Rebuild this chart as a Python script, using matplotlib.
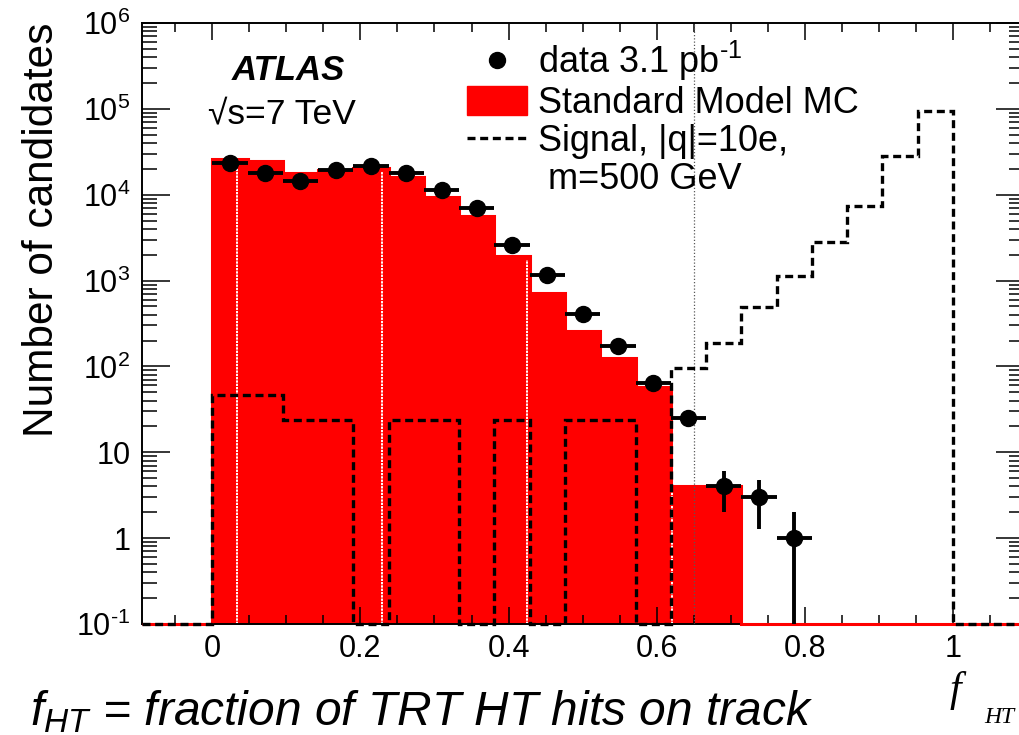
import numpy as np
import matplotlib.pyplot as plt
from matplotlib.lines import Line2D
from matplotlib.patches import Patch
from matplotlib.ticker import FixedLocator, MultipleLocator, LogLocator, FuncFormatter, NullFormatter

plt.rcParams['font.family'] = ['Liberation Sans', 'DejaVu Sans']
plt.rcParams['mathtext.fontset'] = 'custom'
plt.rcParams['mathtext.rm'] = 'Liberation Sans'
plt.rcParams['mathtext.it'] = 'Liberation Sans:italic'
plt.rcParams['mathtext.default'] = 'regular'
plt.rcParams['axes.unicode_minus'] = False

# =========================
# data (bins of 1/21 in f_HT, starting at 0)
# =========================
n_bins = 21
data_counts = [23400, 17900, 14300, 19200, 21800, 17900, 11400, 7000,
               2610, 1170, 410, 174, 65, 25, 4, 3, 1]
sm_mc = [26100, 24400, 17900, 19600, 20600, 15900, 9400, 5690,
         1945, 721, 260, 126, 57.8, 4.1, 4.1]
signal = [47, 47, 24, 24, 0, 24, 24, 0, 24, 0, 24, 24, 0,
          95, 188, 495, 1140, 2830, 7450, 28500, 95300]

x_ticks = [0, 0.2, 0.4, 0.6, 0.8, 1.0]
cut_value = 0.65
gap_x = [0.034, 0.229, 0.425, 0.621]   # white seams inside the MC fill

# histogram range has two empty bins on each side
edges = np.arange(-2, n_bins + 3) / n_bins
n_all = len(edges) - 1


def padded(vals):
    arr = np.zeros(n_all)
    arr[2:2 + len(vals)] = vals
    return arr


mc_full = padded(sm_mc)
sig_full = padded(signal)
centers = 0.5 * (edges[:-1] + edges[1:])
y_min, y_max = 0.1, 1e6
HYPHEN = '\u2010'

# =========================
# figure
# =========================
fig = plt.figure(figsize=(10.2, 7.35), dpi=100)
ax = fig.add_axes([0.1389, 0.1510, 0.8646, 0.8177])
ax.set_yscale('log')

# SM MC, filled red
ax.stairs(np.maximum(mc_full, y_min), edges, baseline=y_min, fill=True,
          color='#ff0000', zorder=1)
ax.stairs(np.maximum(mc_full, y_min), edges, baseline=y_min, fill=False,
          color='#ff0000', lw=2.2, clip_on=False, zorder=2.6)

# white seams in the fill
for gx in gap_x:
    j = int(np.floor(gx * n_bins)) + 2
    ax.vlines(gx, y_min, mc_full[j] * 0.9, colors='white', lw=1.4,
              linestyles=(0, (1.2, 0.5)), zorder=1.5)

# cut line
ax.axvline(cut_value, color='0.35', lw=0.9, ls=(0, (1, 1.6)), zorder=2.7)

# signal, dashed
ax.stairs(np.maximum(sig_full, y_min), edges, baseline=y_min, fill=False,
          color='black', lw=2.4, ls=(0, (2.4, 1.4)), clip_on=False, zorder=3)

# data with poisson errors
d = np.array(data_counts, dtype=float)
xd = centers[2:2 + len(d)]
err = np.sqrt(d)
lower = np.minimum(err, d - 1e-4)
ax.errorbar(xd, d, xerr=0.5 / n_bins, yerr=[lower, err], fmt='o',
            color='black', ms=11.5, elinewidth=2.8, capsize=0, zorder=5)

# =========================
# axes styling
# =========================
ax.set_xlim(edges[0], edges[-1])
ax.set_ylim(y_min, y_max)

ax.xaxis.set_major_locator(FixedLocator(x_ticks))
ax.xaxis.set_minor_locator(MultipleLocator(0.05))
ax.xaxis.set_major_formatter(FuncFormatter(
    lambda v, p: '0' if abs(v) < 1e-9 else ('1' if abs(v - 1) < 1e-9 else f'{v:.1f}')))


def y_fmt(v, p):
    e = int(round(np.log10(v)))
    if e == 0:
        return '1'
    if e == 1:
        return '10'
    if e < 0:
        return r'$10^{%s%d}$' % (HYPHEN, -e)
    return r'$10^{%d}$' % e


ax.yaxis.set_major_locator(LogLocator(base=10, numticks=20))
ax.yaxis.set_minor_locator(LogLocator(base=10, subs=np.arange(2, 10), numticks=20))
ax.yaxis.set_major_formatter(FuncFormatter(y_fmt))
ax.yaxis.set_minor_formatter(NullFormatter())

ax.tick_params(which='both', direction='in', top=True, right=True)
ax.tick_params(axis='x', which='major', length=12, width=1.1, labelsize=22, pad=7)
ax.tick_params(axis='x', which='minor', length=6.5, width=1.1)
ax.tick_params(axis='y', which='major', length=20, width=1.1, labelsize=22, pad=8)
ax.tick_params(axis='y', which='minor', length=11, width=1.1)
for s in ax.spines.values():
    s.set_linewidth(1.4)

ax.set_ylabel('Number of candidates', fontsize=30.5, loc='top', labelpad=10)

# labels inside the plot
ax.text(0.1024, 0.905, 'ATLAS', transform=ax.transAxes, fontsize=25,
        fontweight='bold', fontstyle='italic', va='baseline')
ax.text(0.0751, 0.8336, '\u221as=7 TeV', transform=ax.transAxes, fontsize=25.5,
        va='baseline')

handles = [
    Line2D([], [], marker='o', color='black', ls='none', ms=11.5),
    Patch(facecolor='#ff0000', edgecolor='#ff0000'),
    Line2D([], [], color='black', lw=2.4, ls=(0, (2.4, 1.4))),
    Line2D([], [], color='none'),
]
labels = [r'data 3.1 pb$^{%s1}$' % HYPHEN, 'Standard Model MC',
          'Signal, |q|=10e,', ' m=500 GeV']
ax.legend(handles, labels, loc='upper left', bbox_to_anchor=(0.369, 0.973),
          fontsize=26, frameon=False, borderpad=0, borderaxespad=0,
          handlelength=1.67, handleheight=0.85, handletextpad=0.3,
          labelspacing=0.08, numpoints=1)

# x axis title and note below
fig.text(0.931, 0.046, 'f', fontsize=30, family='Liberation Serif',
         fontstyle='italic', va='baseline')
fig.text(0.9647, 0.0163, 'HT', fontsize=17, family='Liberation Serif',
         fontstyle='italic', va='baseline')
fig.text(0.0294, 0.014,
         r'$\mathit{f}_{\mathit{HT}}$ = fraction of TRT HT hits on track',
         fontsize=34.5, fontstyle='italic', va='baseline')

fig.savefig('out.png', dpi=100)
